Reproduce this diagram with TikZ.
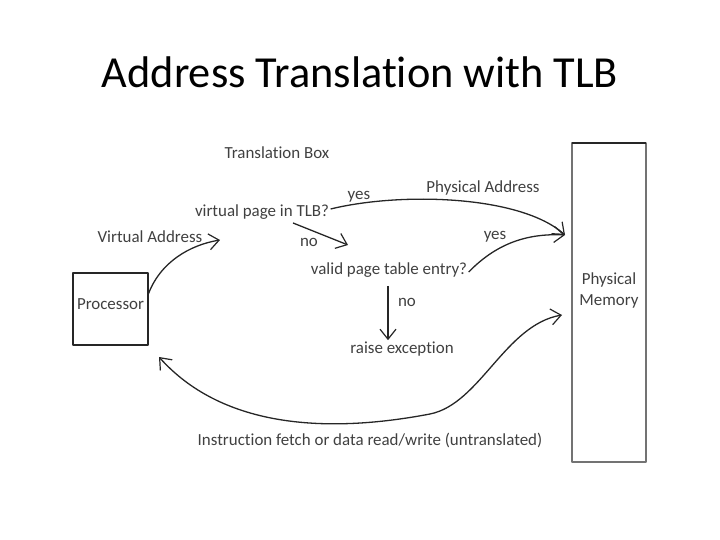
\documentclass[tikz,border=0pt]{standalone}
\usepackage{fontspec}
\setmainfont{Carlito}[Ligatures=NoCommon]
\usetikzlibrary{arrows.meta}
\tikzset{
  lbl/.style={inner sep=1bp,text=black!75,font=\fontsize{17}{20.5}\selectfont},
  unit/.style={draw,line width=1.5bp,inner sep=0bp,outer sep=0bp},
}
\begin{document}
\begin{tikzpicture}[>={Straight Barb[length=10bp,width=16bp,line width=1.2bp]},line join=bevel,]
  \pgfsetlinewidth{1.3bp}
  \useasboundingbox (0bp,0bp) rectangle (720bp,540bp);
%%
\pgfsetcolor{black}
  % Title
  \node (title) [anchor=base,font=\fontsize{44.5}{50}\selectfont] at (360bp,452bp) {Address Translation with TLB};
  % Node: Processor
\begin{scope}
  \node (proc) [unit,draw=black!85,minimum width=75bp,minimum height=72bp,
    label={[lbl,yshift=5bp]center:Processor}] at (110.5bp,231bp) {};
\end{scope}
  % Node: Memory
\begin{scope}
  \node (mem) [unit,draw=black!55,minimum width=74bp,minimum height=319bp,
    label={[lbl,align=center,yshift=12bp]center:Physical\\Memory}] at (609bp,237.5bp) {};
  \draw [black!85,line width=1.5bp] (mem.north west) -- (mem.north east);
\end{scope}
  % Labels
  \node (tbox) [lbl] at (277bp,387bp) {Translation Box};
  \node (tlbq) [lbl] at (262bp,328bp) {virtual page in TLB?};
  \node (va)   [lbl] at (150bp,303bp) {Virtual Address};
  \node (yes1) [lbl] at (359bp,343bp) {yes};
  \node (pa)   [lbl] at (483bp,352bp) {Physical Address};
  \node (no1)  [lbl] at (309bp,298bp) {no};
  \node (yes2) [lbl] at (495bp,303bp) {yes};
  \node (pte)  [lbl] at (389bp,270bp) {valid page table entry?};
  \node (no2)  [lbl] at (407bp,238bp) {no};
  \node (exc)  [lbl] at (402bp,191bp) {raise exception};
  \node (untr) [lbl] at (370bp,100bp) {Instruction fetch or data read/write (untranslated)};
  % Arrow tips
  \coordinate (vatip) at (220bp,300bp);
  \coordinate (notip) at (348bp,295bp);
  \coordinate (pain)  at (565bp,305bp);
  \coordinate (rwin)  at (562bp,225bp);
  \coordinate (rwout) at (159bp,183bp);
  \pgfsetcolor{black!85}
  % Edge: Processor -> Virtual Address
  \draw [->] ([yshift=14bp]proc.east) .. controls (160bp,278bp) and (190bp,295bp) .. (vatip);
  % Edge: TLB? -> valid page table entry (no)
  \draw [->] ([xshift=31bp,yshift=-2bp]tlbq.south) -- (notip);
  % Edge: TLB? -> Memory (yes)
  \draw [->] ([yshift=3bp]tlbq.east) .. controls (400bp,348bp) and (520bp,345bp) .. (pain);
  % Edge: valid page table entry -> Memory (yes)
  \draw [->] ([yshift=-2bp]pte.east) .. controls (495bp,295bp) and (525bp,307bp) .. (pain);
  % Edge: valid page table entry -> raise exception (no)
  \draw [->,shorten <=7bp] ([xshift=-1bp]pte.south) -- ([xshift=-1bp]pte.south |- exc.north);
  % Edge: Processor <-> Memory (untranslated)
  \draw [<->] (rwout) .. controls (220bp,115bp) and (320bp,105bp) .. (430bp,126bp)
    .. controls (480bp,136bp) and (505bp,215bp) .. (rwin);
%
\end{tikzpicture}
\end{document}
